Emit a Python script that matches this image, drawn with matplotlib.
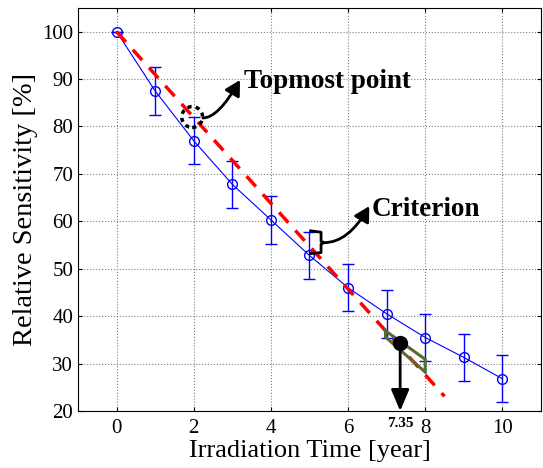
import numpy as np
import matplotlib.pyplot as plt
from matplotlib.patches import Polygon, Ellipse

plt.rcParams['font.family'] = ['Liberation Serif', 'DejaVu Serif']

# measured sensitivity
t = np.array([0, 1, 2, 3, 4, 5, 6, 7, 8, 9, 10])
sens = np.array([100, 87.5, 77.0, 67.8, 60.3, 52.8, 46.0, 40.5, 35.5, 31.3, 26.8])
err = np.array([0, 5, 5, 5, 5, 5, 5, 5, 5, 5, 5])

# linear criterion line
fit_t = np.array([0, 8.5])
fit_s = np.array([100, 23.1])
t_cross = 7.35
s_cross = 34.3

fig = plt.figure(figsize=(5.43, 4.68), dpi=100)
ax = fig.add_axes([0.1436, 0.1218, 0.8527, 0.8612])

ax.errorbar(t, sens, yerr=err, color="blue", marker="o", mfc="none", ms=7,
            mew=1, lw=0.8, elinewidth=1, capsize=4, capthick=1, zorder=3)
ax.plot(fit_t, fit_s, "--", color="red", lw=2.5, dashes=(4, 3), zorder=4)

# green wedge
wedge = Polygon([[6.97, 36.9], [8.0, 30.9], [8.0, 28.2], [6.97, 35.6]],
                closed=True, fc="none", ec="#556b2f", lw=2.2, zorder=5)
ax.add_patch(wedge)
ax.plot(t_cross, s_cross, "o", color="black", ms=10, zorder=6)
ax.annotate("", xy=(t_cross, 20), xytext=(t_cross, s_cross),
            arrowprops=dict(arrowstyle="-|>,head_length=1.3,head_width=0.55",
                            color="black", lw=2, shrinkA=0, shrinkB=0), zorder=6)
ax.text(t_cross, 18.7, "7.35", ha="center", va="top", fontsize=11,
        fontweight="bold", clip_on=False)

# topmost point
ax.add_patch(Ellipse((1.96, 82.0), 0.54, 4.4, fill=False, ls=(0, (1.2, 1.2)),
                     lw=2.5, ec="black", zorder=7))
ax.annotate("", xy=(3.2, 89.8), xytext=(2.24, 81.8),
            arrowprops=dict(arrowstyle="-|>,head_length=0.9,head_width=0.5",
                            color="black", lw=2,
                            connectionstyle="angle3,angleA=0,angleB=60",
                            shrinkA=0, shrinkB=0))
ax.text(3.3, 89.5, "Topmost point", fontsize=19.5, fontweight="bold",
        va="center")

# criterion
bx = [5.03, 5.3, 5.3, 5.38, 5.3, 5.3, 5.03]
by = [58.0, 57.7, 55.8, 55.5, 55.2, 53.4, 53.2]
ax.plot(bx, by, color="black", lw=2, zorder=6)
ax.annotate("", xy=(6.55, 63.2), xytext=(5.38, 55.5),
            arrowprops=dict(arrowstyle="-|>,head_length=0.9,head_width=0.5",
                            color="black", lw=2,
                            connectionstyle="angle3,angleA=0,angleB=60",
                            shrinkA=0, shrinkB=0))
ax.text(6.6, 62.5, "Criterion", fontsize=19.5, fontweight="bold", va="center")

ax.set_xlim(-1, 11)
ax.set_ylim(20, 105)
ax.set_xticks([0, 2, 4, 6, 8, 10])
ax.set_yticks(np.arange(20, 101, 10))
ax.tick_params(direction="in", top=True, right=True, labelsize=15, length=3)
ax.tick_params(axis="x", pad=6)
ax.grid(True, ls=":", color="gray", lw=0.8)
ax.set_xlabel("Irradiation Time [year]", fontsize=19, labelpad=1)
ax.set_ylabel("Relative Sensitivity [%]", fontsize=20.5, labelpad=3)

fig.savefig("out.png")
